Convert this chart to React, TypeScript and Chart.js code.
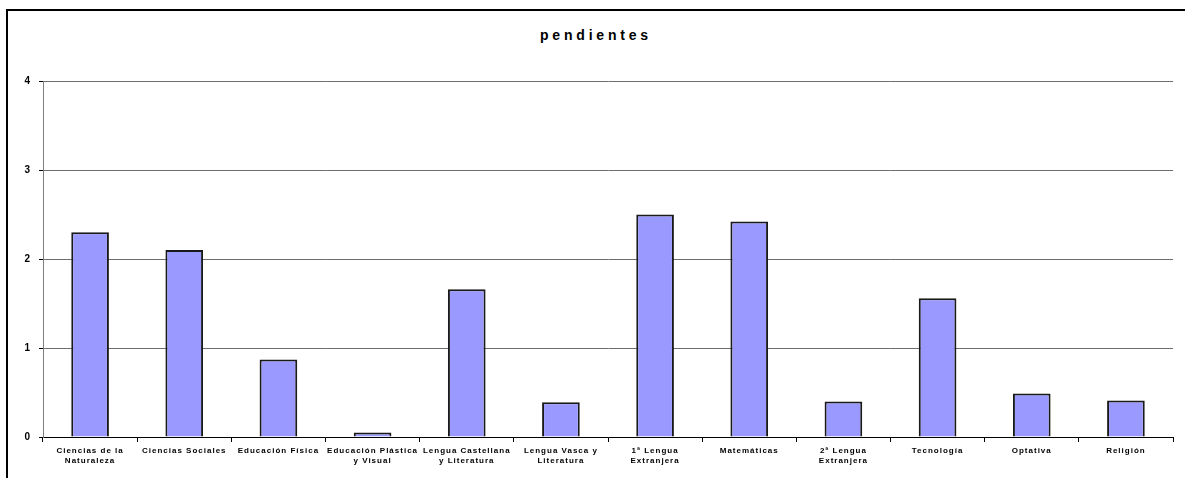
import React, { useEffect, useRef } from "react";
import { Chart, registerables } from "chart.js";

Chart.register(...registerables);

const categories: (string | string[])[] = [
  ["Ciencias de la", "Naturaleza"],
  "Ciencias Sociales",
  "Educación Física",
  ["Educación Plástica", "y Visual"],
  ["Lengua Castellana", "y Literatura"],
  ["Lengua Vasca y", "Literatura"],
  ["1ª Lengua", "Extranjera"],
  "Matemáticas",
  ["2ª Lengua", "Extranjera"],
  "Tecnología",
  "Optativa",
  "Religión",
];

const pendientes: number[] = [2.3, 2.1, 0.87, 0.05, 1.66, 0.39, 2.5, 2.42, 0.4, 1.56, 0.49, 0.41];

const yTicks: number[] = [0, 1, 2, 3, 4];

const FONT = '"Liberation Sans", Arial, sans-serif';

export default function App() {
  const ref = useRef<HTMLCanvasElement | null>(null);

  useEffect(() => {
    if (!ref.current) return;
    const spacing = {
      id: "spacing",
      beforeDraw(chart: any) {
        chart.ctx.letterSpacing = "1px";
      },
    };
    const chart = new Chart(ref.current, {
      type: "bar",
      data: {
        labels: categories as any,
        datasets: [
          {
            label: "pendientes",
            data: pendientes,
            backgroundColor: "#9999FF",
            borderColor: "#1a1a1a",
            borderWidth: 2,
            categoryPercentage: 1,
            barPercentage: 0.4,
          },
        ],
      },
      options: {
        animation: false,
        responsive: false,
        devicePixelRatio: 1,
        layout: { padding: { left: 0, right: 12, top: 81, bottom: 0 } },
        plugins: {
          legend: { display: false },
          tooltip: { enabled: false },
          title: { display: false },
        },
        scales: {
          x: {
            grid: {
              offset: true,
              drawOnChartArea: false,
              drawTicks: true,
              tickLength: 5,
              color: "#000",
            },
            border: { color: "#000", width: 1 },
            ticks: {
              color: "#000",
              font: { family: FONT, size: 8, weight: "bold", lineHeight: 1.35 },
              maxRotation: 0,
              minRotation: 0,
              autoSkip: false,
              padding: 3,
            },
            afterFit(scale: any) {
              scale.height = 41;
            },
          },
          y: {
            min: 0,
            max: 4,
            afterBuildTicks(scale: any) {
              scale.ticks = yTicks.map((v) => ({ value: v }));
            },
            grid: {
              color: "#6e6e6e",
              tickColor: "#000",
              tickLength: 4,
              lineWidth: 1,
            },
            border: { color: "#808080", width: 1 },
            ticks: {
              color: "#000",
              font: { family: FONT, size: 10, weight: "bold" },
              padding: 8,
            },
            afterFit(scale: any) {
              scale.width = 43;
            },
          },
        },
      },
      plugins: [spacing],
    } as any);
    return () => chart.destroy();
  }, []);

  return (
    <div
      style={{
        position: "fixed",
        left: 0,
        top: 0,
        width: 1185,
        height: 478,
        overflow: "hidden",
        background: "#fff",
      }}
    >
      <div
        style={{
          position: "absolute",
          left: 6,
          top: 9,
          width: 1300,
          height: 600,
          border: "2px solid #000",
        }}
      />
      <div
        style={{
          position: "absolute",
          left: 540,
          top: 27,
          font: `bold 14px ${FONT}`,
          lineHeight: "16px",
          letterSpacing: "3.8px",
          whiteSpace: "nowrap",
          color: "#000",
        }}
      >
        pendientes
      </div>
      <canvas
        ref={ref}
        width={1185}
        height={478}
        style={{ position: "absolute", left: 0, top: 0, width: 1185, height: 478 }}
      />
    </div>
  );
}
